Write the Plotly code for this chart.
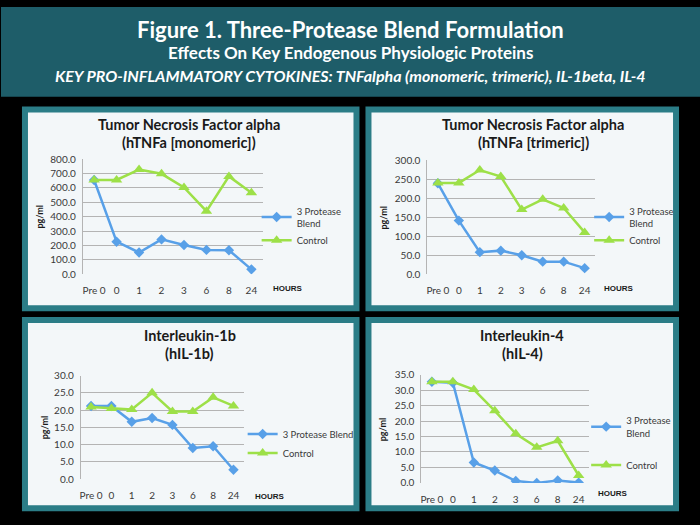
import plotly.graph_objects as go

# ---------------- data ----------------
hours = ["Pre 0", "0", "1", "2", "3", "6", "8", "24"]

tnf_mono_blend = [655, 226, 151, 242, 203, 169, 167, 34]
tnf_mono_control = [655, 655, 728, 698, 603, 438, 680, 567]

tnf_tri_blend = [239, 141, 58, 62, 50, 33, 33, 16]
tnf_tri_control = [240, 240, 274, 257, 170, 197, 174, 110]

il1b_blend = [21.2, 21.2, 16.6, 17.7, 15.7, 9.0, 9.5, 2.7]
il1b_control = [20.9, 20.5, 20.2, 25.0, 19.6, 19.6, 23.7, 21.2]

il4_blend = [32.7, 32.4, 6.6, 4.0, 0.6, 0.0, 0.8, 0.1]
il4_control = [32.7, 32.7, 30.2, 23.3, 15.9, 11.5, 13.6, 2.4]

titles = [
    ("Tumor Necrosis Factor alpha", "(hTNFa [monomeric])"),
    ("Tumor Necrosis Factor alpha", "(hTNFa [trimeric])"),
    ("Interleukin-1b", "(hIL-1b)"),
    ("Interleukin-4", "(hIL-4)"),
]
blend_names = ["3 Protease<br>Blend", "3 Protease<br>Blend", "3 Protease Blend", "3 Protease<br>Blend"]
control_name = "Control"
series = [
    (tnf_mono_blend, tnf_mono_control),
    (tnf_tri_blend, tnf_tri_control),
    (il1b_blend, il1b_control),
    (il4_blend, il4_control),
]
y_ranges = [(0, 800), (0, 300), (0, 30), (0, 35)]
y_dticks = [100, 50, 5, 5]

# ---------------- layout geometry (pixels) ----------------
W, H = 700, 525
def fx(x):
    return x / W
def fy(y):
    return 1 - y / H

panels = [
    dict(box=(21, 102, 359, 312), plot=(82, 156, 262, 274), tx=188, ty=(120, 139),
         leg=(256, 196), gap=0, hours=(287, 289), pg=39),
    dict(box=(365, 102, 679, 312), plot=(427, 157, 595, 274), tx=533, ty=(120, 139),
         leg=(589, 196), gap=0, hours=(619, 289), pg=383),
    dict(box=(21, 318, 359, 517), plot=(80, 378, 243, 484), tx=189, ty=(337, 355),
         leg=(242, 423), gap=0, hours=(269, 502), pg=43),
    dict(box=(365, 318, 679, 517), plot=(421, 377, 589, 488), tx=522, ty=(337, 355),
         leg=(586, 411), gap=15, hours=(613, 499), pg=382),
]

BLUE = "#58a0e8"
GREEN = "#9de048"
TEAL_HEADER = "#1e5d69"
TEAL_BORDER = "#2b7d87"
PANEL_BG = "#f3f7f9"
FONT = "Lato"
TXT = "#3a3a3a"

fig = go.Figure()
shapes = []
annotations = []
layout_extra = {}

# header
shapes.append(dict(type="rect", xref="paper", yref="paper", x0=0, x1=1, y0=fy(92), y1=1,
                   fillcolor=TEAL_HEADER, line=dict(width=0), layer="below"))
annotations += [
    dict(text="<b>Figure 1. Three-Protease Blend Formulation</b>", x=0.5, y=fy(23),
         font=dict(size=22, color="white", family=FONT)),
    dict(text="<b>Effects On Key Endogenous Physiologic Proteins</b>", x=0.5, y=fy(47),
         font=dict(size=17, color="white", family=FONT)),
    dict(text="<b><i>KEY PRO-INFLAMMATORY CYTOKINES: TNFalpha (monomeric, trimeric), IL-1beta, IL-4</i></b>",
         x=0.5, y=fy(70), font=dict(size=16, color="white", family=FONT)),
]

for i, p in enumerate(panels):
    n = i + 1
    xa = "xaxis" if n == 1 else f"xaxis{n}"
    ya = "yaxis" if n == 1 else f"yaxis{n}"
    xr = "x" if n == 1 else f"x{n}"
    yr = "y" if n == 1 else f"y{n}"
    lg = "legend" if n == 1 else f"legend{n}"

    bx0, by0, bx1, by1 = p["box"]
    shapes.append(dict(type="rect", xref="paper", yref="paper",
                       x0=fx(bx0 + 3), x1=fx(bx1 - 3), y0=fy(by1 - 3), y1=fy(by0 + 3),
                       fillcolor=PANEL_BG, line=dict(color=TEAL_BORDER, width=6), layer="below"))

    px0, py0, px1, py1 = p["plot"]
    layout_extra[xa] = dict(domain=[fx(px0), fx(px1)], anchor=yr, type="category",
                            categoryorder="array", categoryarray=hours, range=[-0.5, 7.5],
                            showgrid=False, showline=False, zeroline=False, ticks="",
                            ticklabelstandoff=9, tickfont=dict(size=10, color=TXT, family=FONT),
                            fixedrange=True)
    layout_extra[ya] = dict(domain=[fy(py1), fy(py0)], anchor=xr, range=list(y_ranges[i]),
                            dtick=y_dticks[i], tickformat=".1f", showgrid=True,
                            gridcolor="#b4b4b4", gridwidth=1, zeroline=False,
                            showline=True, linecolor="#b4b4b4", linewidth=1, ticks="",
                            ticklabelstandoff=4,
                            tickfont=dict(size=10, color=TXT, family=FONT), fixedrange=True)

    blend, control = series[i]
    fig.add_trace(go.Scatter(x=hours, y=blend, name=blend_names[i], xaxis=xr, yaxis=yr,
                             mode="lines+markers", legend=lg, legendgroup=f"b{n}",
                             line=dict(color=BLUE, width=2.5),
                             marker=dict(symbol="diamond", size=8, color=BLUE)))
    fig.add_trace(go.Scatter(x=hours, y=control, name=control_name, xaxis=xr, yaxis=yr,
                             mode="lines+markers", legend=lg, legendgroup=f"c{n}",
                             line=dict(color=GREEN, width=2.5),
                             marker=dict(symbol="triangle-up", size=10, color=GREEN)))

    lx, ly = p["leg"]
    layout_extra[lg] = dict(x=fx(lx), y=fy(ly), xanchor="left", yanchor="top",
                            bgcolor="rgba(0,0,0,0)", borderwidth=0,
                            tracegroupgap=p["gap"], itemwidth=30,
                            font=dict(size=9.5, color=TXT, family=FONT))

    t1, t2 = titles[i]
    annotations += [
        dict(text=f"<b>{t1}</b>", x=fx(p["tx"]), y=fy(p["ty"][0]),
             font=dict(size=14.5, color="#1a1a1a", family=FONT)),
        dict(text=f"<b>{t2}</b>", x=fx(p["tx"]), y=fy(p["ty"][1]),
             font=dict(size=14.5, color="#1a1a1a", family=FONT)),
        dict(text="<b>HOURS</b>", x=fx(p["hours"][0]), y=fy(p["hours"][1]),
             font=dict(size=8, color="#1a1a1a", family="Liberation Sans")),
        dict(text="<b>pg/ml</b>", x=fx(p["pg"]), y=fy((py0 + py1) / 2), textangle=-90,
             font=dict(size=9, color="#1a1a1a", family=FONT)),
    ]

for a in annotations:
    a.setdefault("xref", "paper")
    a.setdefault("yref", "paper")
    a.setdefault("showarrow", False)
    a.setdefault("xanchor", "center")
    a.setdefault("yanchor", "middle")

fig.update_layout(
    width=W, height=H, margin=dict(l=0, r=0, t=0, b=0),
    paper_bgcolor="black", plot_bgcolor="rgba(0,0,0,0)",
    shapes=shapes, annotations=annotations, showlegend=True,
    font=dict(family=FONT),
    **layout_extra,
)

fig.write_html(
    "out.html",
    config={"displayModeBar": False},
    post_script="document.body.style.margin='0';document.body.style.overflow='hidden';",
)
